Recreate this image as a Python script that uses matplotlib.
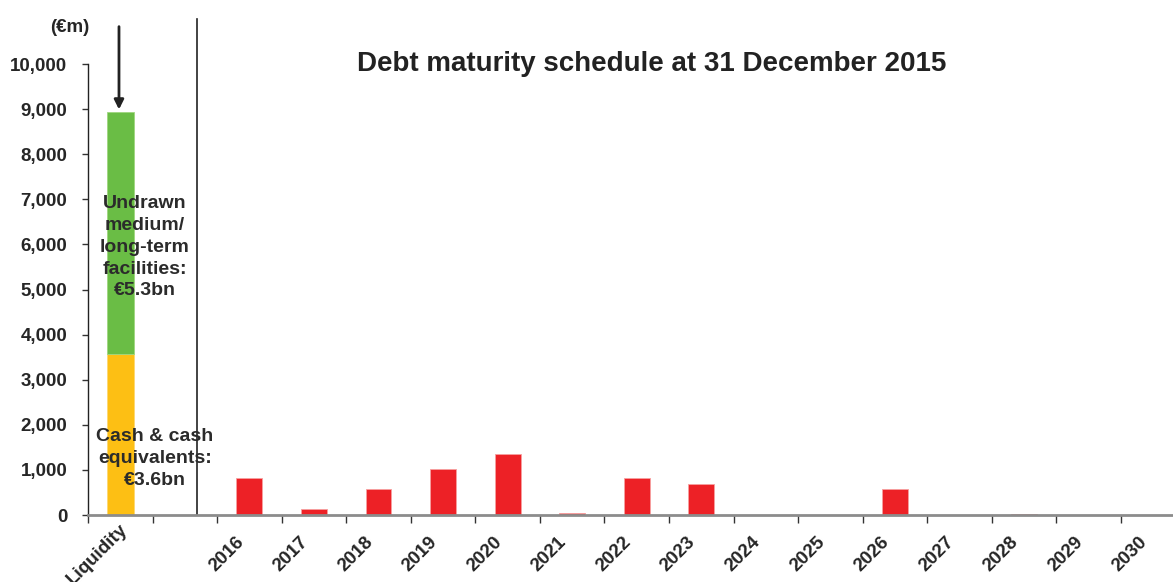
import numpy as np
import matplotlib.pyplot as plt
from matplotlib.ticker import FuncFormatter, FixedLocator
import matplotlib.transforms as mtransforms

plt.rcParams['font.family'] = ['Liberation Sans', 'DejaVu Sans']

# data (EUR m)
categories = ['Liquidity', '', '2016', '2017', '2018', '2019', '2020', '2021', '2022',
              '2023', '2024', '2025', '2026', '2027', '2028', '2029', '2030']
cash = 3580
undrawn = 5350
years = categories[2:]
maturities = [820, 125, 575, 1030, 1345, 40, 830, 695, 10, 0, 585, 0, 25, 0, 0]

txt = '#262626'

fig = plt.figure(figsize=(11.73, 5.82), dpi=100)
ax = fig.add_axes([88/1173, 67/582, 1 - 88/1173, 451/582])

# liquidity stack
ax.bar(0, cash, width=0.42, color='#fdbf14', edgecolor='#fdd870', linewidth=0.6)
ax.bar(0, undrawn, bottom=cash, width=0.42, color='#6abd45', edgecolor='#9fd67f', linewidth=0.6)

# maturities
xpos = np.arange(2, 2 + len(years))
ax.bar(xpos, maturities, width=0.4, color='#ed2126', edgecolor='#f7a0a0', linewidth=0.6)

ax.set_xlim(-0.5, 16.306)
ax.set_ylim(0, 10000)

ax.yaxis.set_major_locator(FixedLocator(np.arange(0, 10001, 1000)))
ax.yaxis.set_major_formatter(FuncFormatter(lambda v, p: '{:,.0f}'.format(v)))
ax.tick_params(axis='y', direction='out', length=4.3, width=1, color='#333333',
               pad=10.5, labelsize=13.5, labelcolor=txt)
for lab in ax.get_yticklabels():
    lab.set_fontweight('bold')

# category boundaries as ticks, labels at centres
ax.set_xticks(np.arange(-0.5, 16, 1))
ax.set_xticklabels([])
ax.set_xticks(np.arange(len(categories)), minor=True)
ax.set_xticklabels(categories, minor=True, rotation=45, ha='center', va='center',
                   rotation_mode='anchor', fontsize=13.5, fontweight='bold', color=txt)
ax.tick_params(axis='x', which='major', direction='out', length=6, width=1, color='#333333')
ax.tick_params(axis='x', which='minor', length=0, pad=0)
# label centres sit below-left of the category centre
shift = mtransforms.ScaledTranslation(-23/100, -39/100, fig.dpi_scale_trans)
for lab in ax.xaxis.get_minorticklabels():
    lab.set_transform(lab.get_transform() + shift)

for s in ['top', 'right']:
    ax.spines[s].set_visible(False)
ax.spines['left'].set_color('#222222')
ax.spines['left'].set_linewidth(1)
ax.spines['bottom'].set_color('#8c8c8c')
ax.spines['bottom'].set_linewidth(2)

# separator line
ax.plot([1.196, 1.196], [0, 11000], color='#222222', linewidth=1.2, clip_on=False)

# arrow onto liquidity bar
ax.annotate('', xy=(-0.02, cash + undrawn), xytext=(-0.02, 10890),
            arrowprops=dict(arrowstyle='-|>', color='#222222', lw=2, mutation_scale=14),
            annotation_clip=False)

ax.text(0.383, 5940, 'Undrawn\nmedium/\nlong-term\nfacilities:\n€5.3bn', ha='center', va='center',
        fontsize=14, fontweight='bold', color='#2b2b2b', linespacing=1.38)
ax.text(0.538, 1260, 'Cash & cash\nequivalents:\n€3.6bn', ha='center', va='center',
        fontsize=14, fontweight='bold', color='#2b2b2b', linespacing=1.38)

fig.text(652/1173, 1 - 64/582, 'Debt maturity schedule at 31 December 2015', ha='center', va='center',
         fontsize=20, fontweight='bold', color='#222222')
fig.text(89/1173, 1 - 27/582, '(€m)', ha='right', va='center', fontsize=13.5,
         fontweight='bold', color=txt)

fig.savefig('out.png', dpi=100)
